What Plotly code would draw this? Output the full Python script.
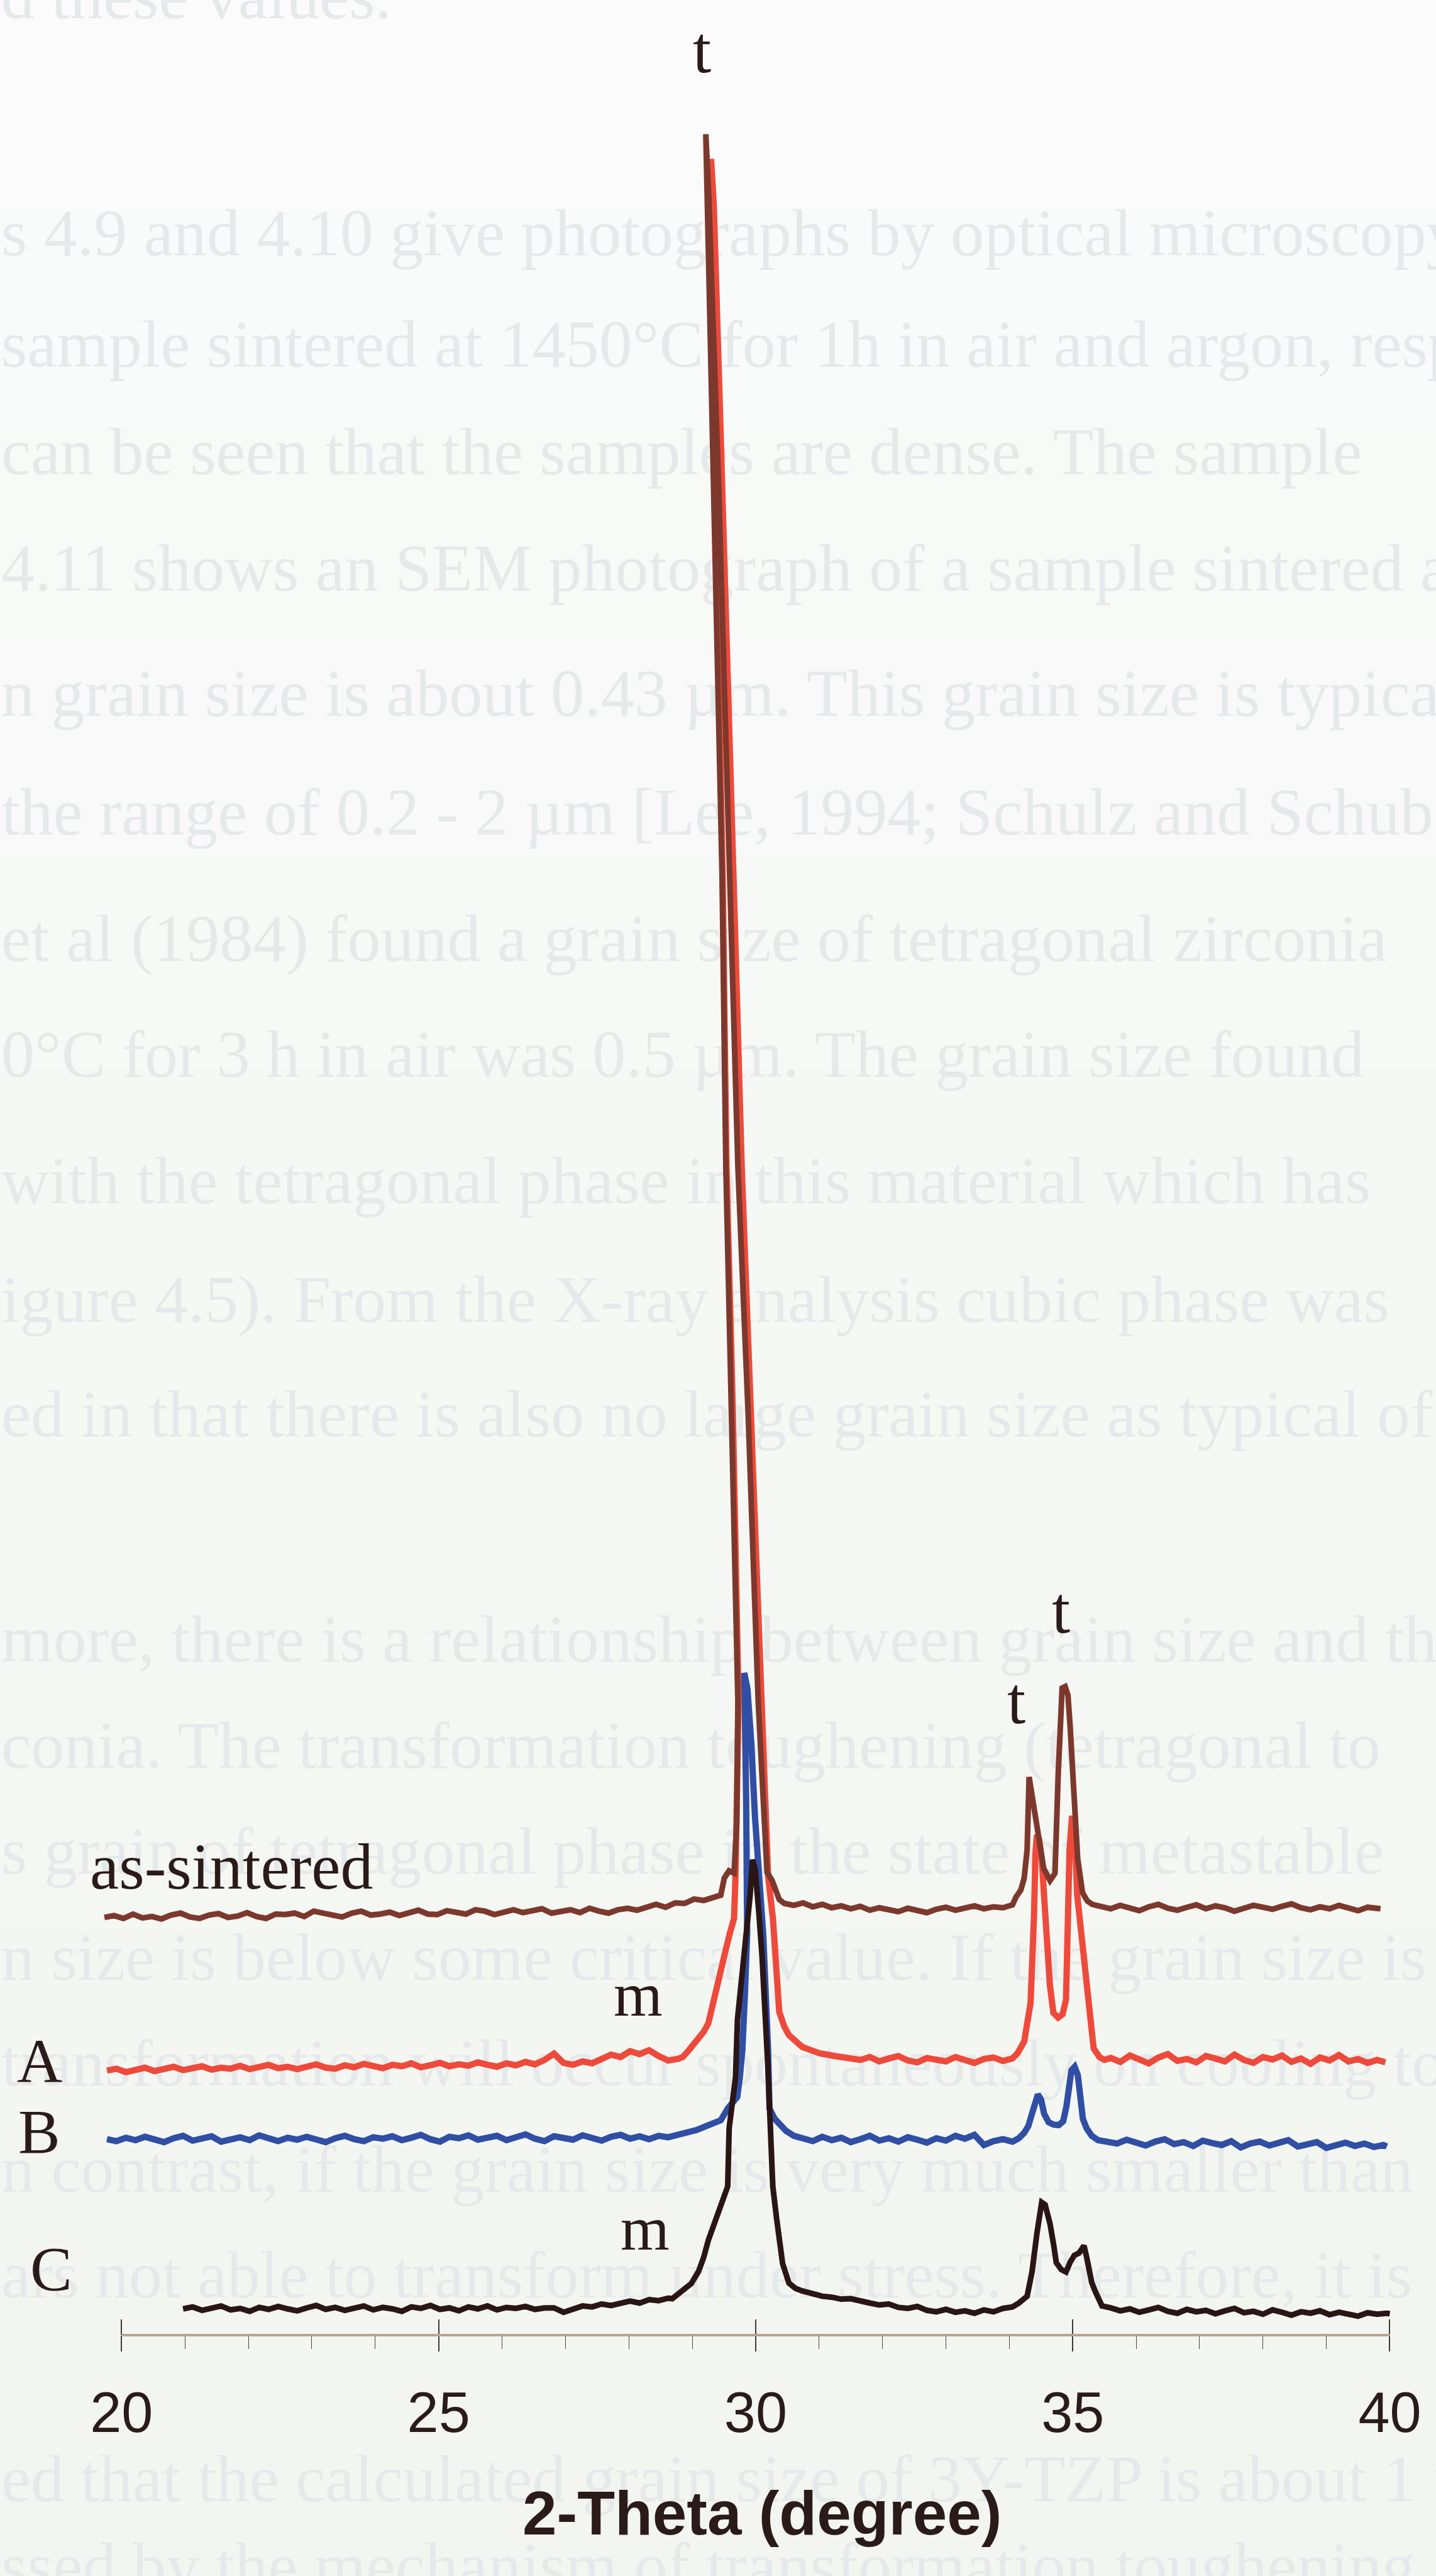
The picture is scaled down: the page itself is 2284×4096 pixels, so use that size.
import plotly.graph_objects as go

# ---------------- XRD patterns: 2-theta (degree) vs stacked intensity (a.u.) ----------------
STEP = 0.15  # 2-theta spacing of the baseline readings

# as-sintered
AS_LEFT_START = 19.73
AS_LEFT_Y = [859, 863, 857, 866, 858, 861, 856, 864, 868, 860,
             857, 864, 867, 859, 862, 869, 861, 857, 866, 865,
             868, 861, 872, 867, 864, 860, 868, 872, 864, 866,
             870, 863, 869, 874, 866, 865, 873, 869, 866, 875,
             872, 865, 869, 875, 869, 872, 877, 868, 872, 875,
             869, 878, 872, 868, 875, 878, 874, 880, 886, 880,
             889, 888, 897, 894, 899]
AS_PEAK1_X = [29.45, 29.505, 29.58, 29.66, 29.70, 29.72, 29.62, 29.53, 29.47, 29.33, 29.23, 29.214,
              29.26, 29.42, 29.59, 29.72, 29.88, 30.04, 30.12, 30.18, 30.26, 30.33, 30.372, 30.45]
AS_PEAK1_Y = [905, 940, 955, 950, 1050, 1303, 1900, 2403, 3003, 3787, 4400, 4527,
              4400, 3787, 3003, 2403, 1900, 1303, 1100, 952, 935, 910, 896, 888]
AS_MID_START = 30.60
AS_MID_Y = [884, 889, 881, 886, 879, 883, 877, 882, 874, 879, 876, 871, 878, 873, 869, 876,
            880, 874, 878, 883, 877, 881, 879]
AS_PEAK2_X = [34.05, 34.105, 34.18, 34.235, 34.281, 34.312, 34.36, 34.412, 34.48, 34.542, 34.642, 34.72,
              34.772, 34.80, 34.833, 34.88, 34.925, 34.96, 35.002, 35.04, 35.078, 35.155, 35.23, 35.308]
AS_PEAK2_Y = [885, 901, 915, 940, 999, 1148, 1110, 1059, 1000, 960, 935, 950,
              1158, 1260, 1331, 1334, 1316, 1250, 1158, 1060, 980, 910, 893, 886]
AS_RIGHT_START = 35.45
AS_RIGHT_Y = [882, 877, 884, 879, 873, 881, 886, 878, 874, 880, 885, 877, 883, 879, 872,
              878, 884, 880, 876, 882, 887, 879, 875, 881, 877, 884, 878, 873, 880, 876]
AS_END_X, AS_END_Y = [39.854], [877]

# sample A
A_LEFT_START = 19.77
A_LEFT_Y = [544, 548, 541, 546, 550, 543, 547, 552, 545, 549,
            553, 546, 550, 548, 554, 547, 551, 556, 549, 552,
            547, 553, 557, 550, 548, 555, 551, 558, 552, 549,
            556, 553, 559, 551, 555, 560, 553, 557, 554, 561,
            556, 552, 559, 555, 562, 557, 566, 579, 560, 556,
            563, 559, 568, 577, 572, 584, 578, 586, 574, 565,
            568]
A_PEAK1_X = [28.85, 28.946, 29.02, 29.10, 29.18, 29.253, 29.35, 29.452, 29.529, 29.60, 29.659, 29.682,
             29.73, 29.64, 29.54, 29.48, 29.35, 29.28, 29.25, 29.30, 29.34, 29.43, 29.48, 29.65,
             29.78, 29.93, 30.10, 30.196, 30.272, 30.326, 30.372, 30.45, 30.525, 30.732, 31.00, 31.25, 31.499]
A_PEAK1_Y = [572, 586, 597, 610, 624, 641, 690, 745, 793, 830, 857, 944,
             1303, 1900, 2403, 3003, 3787, 4300, 4470, 4470, 4380, 3990, 3787, 3003,
             2403, 1850, 1303, 944, 857, 761, 665, 635, 617, 593, 580, 574, 568]
A_MID_START = 31.65
A_MID_Y = [566, 572, 563, 569, 574, 565, 561, 570, 567, 563, 572, 566, 560, 568, 571, 564, 569]
A_PEAK2_X = [34.13, 34.235, 34.335, 34.37, 34.389, 34.412, 34.435, 34.47, 34.511, 34.55, 34.588, 34.64,
             34.695, 34.77, 34.84, 34.894, 34.925, 34.95, 34.99, 35.03, 35.07, 35.15, 35.25, 35.33, 35.42, 35.50]
A_PEAK2_Y = [580, 604, 683, 780, 861, 990, 1029, 1020, 980, 900, 812, 720,
             663, 653, 660, 690, 861, 1000, 1068, 1040, 906, 800, 680, 590, 572, 566]
A_RIGHT_START = 35.60
A_RIGHT_Y = [570, 562, 575, 566, 559, 571, 578, 564, 568, 561, 574, 569, 563, 577, 566,
             560, 572, 567, 575, 562, 569, 558, 571, 565, 576, 563, 568, 560, 566]
A_END_X, A_END_Y = [39.931], [561]

# sample B
B_LEFT_START = 19.77
B_LEFT_Y = [403, 399, 406, 401, 408, 402, 397, 405, 410, 400,
            404, 409, 398, 403, 407, 401, 411, 405, 399, 406,
            402, 408, 404, 397, 405, 410, 403, 399, 407, 404,
            409, 401, 406, 412, 403, 398, 408, 405, 411, 402,
            406, 410, 401, 408, 413, 404, 399, 409, 406, 402,
            411, 405, 400, 408, 412, 404, 409, 403, 410, 407,
            412, 415, 422, 430, 436]
B_PEAK1_X = [29.45, 29.56, 29.65, 29.71, 29.75, 29.79, 29.83, 29.866, 29.85, 29.82, 29.87, 29.93,
             29.99, 30.05, 30.119, 30.196, 30.218, 30.30, 30.372, 30.48, 30.602]
B_PEAK1_Y = [442, 466, 480, 490, 530, 586, 700, 825, 1100, 1362, 1330, 1220,
             1064, 950, 825, 586, 466, 445, 434, 420, 410]
B_MID_START = 30.75
B_MID_Y = [404, 399, 408, 401, 406, 397, 403, 410, 400, 405, 398, 407, 402, 396, 405, 400,
           410, 404, 412, 391, 399, 403, 398]
B_PEAK2_X = [34.15, 34.235, 34.30, 34.35, 34.40, 34.45, 34.50, 34.55, 34.62, 34.70, 34.78,
             34.85, 34.90, 34.94, 34.98, 35.03, 35.08, 35.12, 35.16, 35.22, 35.30, 35.40]
B_PEAK2_Y = [405, 416, 430, 452, 480, 495, 485, 455, 438, 433, 432,
             440, 470, 515, 545, 552, 535, 490, 445, 425, 410, 401]
B_RIGHT_START = 35.55
B_RIGHT_Y = [399, 394, 402, 396, 390, 398, 403, 393, 397, 389, 400, 395, 391, 399, 386,
             394, 398, 390, 395, 401, 388, 393, 397, 385, 392, 396, 389, 394, 387, 391]
B_END_X, B_END_Y = [39.954], [388]

# sample C
C_LEFT_START = 20.97
C_LEFT_Y = [54, 58, 51, 56, 60, 52, 55, 49, 57, 53,
            59, 54, 50, 56, 61, 53, 57, 51, 55, 60,
            52, 57, 54, 49, 58, 55, 61, 53, 56, 50,
            58, 54, 60, 52, 57, 55, 59, 53, 56, 56,
            47, 55, 60, 58, 64, 61, 67, 70, 66, 73,
            71, 76]
C_PEAK1_X = [28.685, 28.77, 28.85, 28.984, 29.099, 29.18, 29.253, 29.35, 29.429, 29.50, 29.559, 29.582,
             29.682, 29.713, 29.789, 29.85, 29.912, 29.95, 29.99, 30.05, 30.10, 30.19, 30.23, 30.27,
             30.33, 30.425, 30.525, 30.63, 30.732]
C_PEAK1_Y = [75, 84, 92, 106, 131, 160, 195, 230, 259, 285, 306, 426,
             530, 649, 745, 830, 904, 978, 960, 870, 780, 560, 420, 306,
             240, 147, 107, 96, 91]
C_MID_START = 30.90
C_MID_Y = [84, 80, 78, 74, 75, 69, 66, 62, 64, 57, 55, 59, 51, 48, 53, 47, 50, 45, 52, 48, 55, 58]
C_PEAK2_X = [34.15, 34.281, 34.358, 34.435, 34.48, 34.511, 34.565, 34.642, 34.70, 34.741, 34.82,
             34.894, 34.96, 35.025, 35.102, 35.178, 35.22, 35.255, 35.30, 35.355, 35.462]
C_PEAK2_Y = [66, 80, 130, 209, 250, 273, 268, 229, 185, 149, 135,
             130, 150, 164, 169, 184, 160, 130, 108, 90, 60]
C_RIGHT_START = 35.60
C_RIGHT_Y = [56, 50, 54, 47, 52, 57, 49, 45, 53, 48, 51, 44, 50, 55, 46,
             49, 43, 52, 47, 41, 48, 45, 50, 42, 47, 44, 39, 46, 43, 45]
C_END_X, C_END_Y = [40.0], [44]

# axis
X_MIN, X_MAX = 19.6, 40.6
Y_MAX = 4803
AXIS_START, AXIS_END = 20, 40
MAJOR_TICK0, MAJOR_DTICK, MINOR_DTICK = 20, 5, 1

# peak labels: (text, 2-theta, intensity level)
PEAK_LABELS = [("t", 29.153, 4700), ("t", 34.113, 1305), ("t", 34.818, 1491),
               ("m", 28.149, 701), ("m", 28.256, 219)]
# curve labels: (text, 2-theta, intensity level, anchor)
CURVE_LABELS = [("as-sintered", 19.479, 964, "left"), ("A", 18.704, 563, "center"),
                ("B", 18.704, 419, "center"), ("C", 18.888, 137, "center")]

# page text printed behind the figure: (line, row on the page in px from the top)
PAGE_TEXT = [
    ("d these values.", 2),
    ("s 4.9 and 4.10 give photographs by optical microscopy of", 379),
    ("sample sintered at 1450°C for 1h in air and argon, respectively.", 556),
    ("can be seen that the samples are dense. The sample", 727),
    ("4.11 shows an SEM photograph of a sample sintered at", 912),
    ("n grain size is about 0.43 µm. This grain size is typical", 1111),
    ("the range of 0.2 - 2 µm [Lee, 1994; Schulz and Schubert", 1300),
    ("et al (1984) found a grain size of tetragonal zirconia", 1501),
    ("0°C for 3 h in air was 0.5 µm. The grain size found", 1685),
    ("with the tetragonal phase in this material which has", 1886),
    ("igure 4.5). From the X-ray analysis cubic phase was", 2075),
    ("ed in that there is also no large grain size as typical of", 2257),
    ("more, there is a relationship between grain size and the", 2615),
    ("conia. The transformation toughening (tetragonal to", 2784),
    ("s grain of tetragonal phase in the state of metastable", 2952),
    ("n size is below some critical value. If the grain size is", 3121),
    ("transformation will occur spontaneously on cooling to", 3289),
    ("n contrast, if the grain size is very much smaller than", 3458),
    ("ars not able to transform under stress. Therefore, it is", 3626),
    ("ed that the calculated grain size of 3Y-TZP is about 1 µm", 3950),
    ("ssed by the mechanism of transformation toughening", 4089),
]

W, H = 2284, 4096
PLOT_L, PLOT_R, PLOT_B = 153, 13, 383  # data area insets (px)


def assemble(parts):
    xs, ys = [], []
    for part in parts:
        if part[0] == "grid":
            _, start, vals = part
            xs += [round(start + i * STEP, 3) for i in range(len(vals))]
            ys += list(vals)
        else:
            _, px, py = part
            xs += list(px)
            ys += list(py)
    return xs, ys


def to_paper_x(two_theta):
    px_per_deg = (W - PLOT_L - PLOT_R) / (X_MAX - X_MIN)
    return (PLOT_L + (two_theta - X_MIN) * px_per_deg) / W


as_x, as_y = assemble([("grid", AS_LEFT_START, AS_LEFT_Y), ("pts", AS_PEAK1_X, AS_PEAK1_Y),
                       ("grid", AS_MID_START, AS_MID_Y), ("pts", AS_PEAK2_X, AS_PEAK2_Y),
                       ("grid", AS_RIGHT_START, AS_RIGHT_Y), ("pts", AS_END_X, AS_END_Y)])
a_x, a_y = assemble([("grid", A_LEFT_START, A_LEFT_Y), ("pts", A_PEAK1_X, A_PEAK1_Y),
                     ("grid", A_MID_START, A_MID_Y), ("pts", A_PEAK2_X, A_PEAK2_Y),
                     ("grid", A_RIGHT_START, A_RIGHT_Y), ("pts", A_END_X, A_END_Y)])
b_x, b_y = assemble([("grid", B_LEFT_START, B_LEFT_Y), ("pts", B_PEAK1_X, B_PEAK1_Y),
                     ("grid", B_MID_START, B_MID_Y), ("pts", B_PEAK2_X, B_PEAK2_Y),
                     ("grid", B_RIGHT_START, B_RIGHT_Y), ("pts", B_END_X, B_END_Y)])
c_x, c_y = assemble([("grid", C_LEFT_START, C_LEFT_Y), ("pts", C_PEAK1_X, C_PEAK1_Y),
                     ("grid", C_MID_START, C_MID_Y), ("pts", C_PEAK2_X, C_PEAK2_Y),
                     ("grid", C_RIGHT_START, C_RIGHT_Y), ("pts", C_END_X, C_END_Y)])

INK = "#2a1b19"
SERIF = "Liberation Serif, Times New Roman, serif"

fig = go.Figure()

# faint page text on a full-page background subplot (drawn first, under the curves)
fig.add_trace(go.Scatter(
    x=[2] * len(PAGE_TEXT), y=[r for _, r in PAGE_TEXT],
    text=[t for t, _ in PAGE_TEXT], mode="text", textposition="middle right",
    textfont=dict(family=SERIF, size=106, color="#e6e9ea"),
    xaxis="x", yaxis="y", cliponaxis=False, hoverinfo="skip", showlegend=False))

# diffraction curves (A under the as-sintered trace, C on top)
for name, xs, ys, color, width in [
        ("A", a_x, a_y, "#ee4a3b", 10),
        ("as-sintered", as_x, as_y, "#7c382d", 9),
        ("B", b_x, b_y, "#2f4ea4", 10),
        ("C", c_x, c_y, "#2a1515", 9)]:
    fig.add_trace(go.Scatter(x=xs, y=ys, mode="lines", name=name, xaxis="x2", yaxis="y2",
                             line=dict(color=color, width=width, shape="linear"),
                             hoverinfo="skip", showlegend=False))

# dummy trace so the overlaying axis carries its inside ticks
fig.add_trace(go.Scatter(x=[AXIS_START], y=[0], xaxis="x3", yaxis="y2", mode="none",
                         hoverinfo="skip", showlegend=False))

annotations = []
for text, x, y in PEAK_LABELS:
    size = 105 if text == "t" else 100
    annotations.append(dict(text=text, x=x, y=y, xref="x2", yref="y2", showarrow=False,
                            xanchor="center", yanchor="middle",
                            font=dict(family=SERIF, size=size, color=INK)))
# curve names sit left of the axis range, so they are placed in paper coordinates
for text, x, y, anchor in CURVE_LABELS:
    size = 104 if text == "as-sintered" else 100
    annotations.append(dict(text=text, x=to_paper_x(x), y=y, xref="paper", yref="y2",
                            showarrow=False, xanchor=anchor, yanchor="middle",
                            font=dict(family=SERIF, size=size, color=INK)))
annotations.append(dict(text="<b>2-Theta (degree)</b>", x=30.1, y=1 - 3996 / H, xref="x2", yref="paper",
                        showarrow=False, xanchor="center", yanchor="middle",
                        font=dict(family="Liberation Sans, Arial, sans-serif", size=98, color=INK)))

# page tint, slightly warmer toward the bottom
shapes = []
top_rgb, bottom_rgb = (250, 251, 251), (242, 245, 239)
bands = 12
for i in range(bands):
    f = (i + 0.5) / bands
    col = tuple(round(top_rgb[k] + (bottom_rgb[k] - top_rgb[k]) * f) for k in range(3))
    shapes.append(dict(type="rect", xref="paper", yref="paper", layer="below",
                       x0=0, x1=1, y0=1 - (i + 1) / bands - 0.001, y1=1 - i / bands + 0.001,
                       line=dict(width=0), fillcolor="rgb(%d,%d,%d)" % col))
# horizontal axis line between the first and last tick
axis_y = PLOT_B / H
shapes.append(dict(type="line", xref="x2", yref="paper", x0=AXIS_START, x1=AXIS_END,
                   y0=axis_y, y1=axis_y, line=dict(color="#bda48e", width=4), layer="above"))

tick_font = dict(family="Liberation Sans Narrow, Arial Narrow, Liberation Sans, Arial, sans-serif",
                 size=90, color=INK)
x_dom = [PLOT_L / W, (W - PLOT_R) / W]
y_dom = [PLOT_B / H, 1]

fig.update_layout(
    width=W, height=H,
    margin=dict(l=0, r=0, t=0, b=0, pad=0, autoexpand=False),
    paper_bgcolor="#f9fafa", plot_bgcolor="rgba(0,0,0,0)",
    showlegend=False,
    annotations=annotations,
    shapes=shapes,
    # full-page background axes (page pixels, y downward)
    xaxis=dict(domain=[0, 1], range=[0, W], visible=False, fixedrange=True),
    yaxis=dict(domain=[0, 1], range=[H, 0], visible=False, fixedrange=True),
    # diffraction axes
    xaxis2=dict(domain=x_dom, anchor="y2", range=[X_MIN, X_MAX], showline=False, showgrid=False,
                zeroline=False, tickmode="linear", tick0=MAJOR_TICK0, dtick=MAJOR_DTICK,
                ticks="outside", ticklen=25, tickwidth=1.6, tickcolor="#3f3a38",
                tickfont=tick_font, ticklabelstandoff=20,
                minor=dict(tickmode="linear", tick0=MAJOR_TICK0, dtick=MINOR_DTICK,
                           ticks="outside", ticklen=21, tickwidth=1.4, tickcolor="#4a4543"),
                fixedrange=True),
    xaxis3=dict(range=[X_MIN, X_MAX], overlaying="x2", anchor="y2", side="bottom",
                showline=False, showgrid=False, zeroline=False, showticklabels=False,
                tickmode="linear", tick0=MAJOR_TICK0, dtick=MAJOR_DTICK,
                ticks="inside", ticklen=25, tickwidth=1.6, tickcolor="#3f3a38",
                fixedrange=True),
    yaxis2=dict(domain=y_dom, anchor="x2", range=[0, Y_MAX], visible=False, showgrid=False,
                zeroline=False, fixedrange=True),
)

fig.write_html("out.html")
